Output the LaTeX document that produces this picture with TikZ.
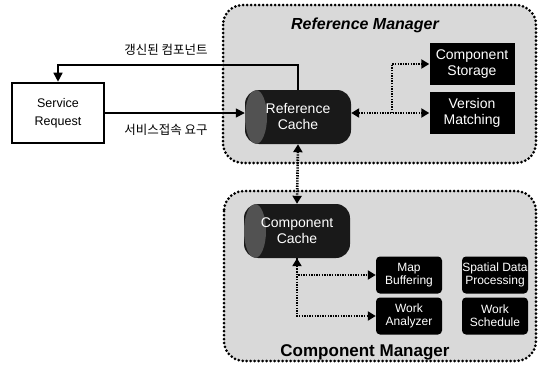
\documentclass[tikz,border=0pt]{standalone}
\usepackage{fontspec}
\setmainfont{Liberation Sans}
\newfontfamily\kr{Noto Sans CJK KR}
\usetikzlibrary{arrows.meta}

\tikzset{
  region/.style={draw=black, fill=black!15, line width=3pt,
    dash pattern=on 0pt off 4pt, line cap=round, rounded corners=20pt},
  cache/.style={fill=black!90, text=white, align=center, rounded corners=14pt,
    minimum width=106pt, minimum height=54pt, inner sep=0pt,
    font=\fontsize{14}{16}\selectfont,
    path picture={\fill[black!68] ([xshift=11pt]path picture bounding box.west)
      ellipse (11pt and 27pt);}},
  module/.style={fill=black, text=white, align=center,
    minimum width=85pt, minimum height=42pt, inner sep=0pt,
    font=\fontsize{14}{16}\selectfont},
  task/.style={fill=black, text=white, align=center, rounded corners=4pt,
    minimum width=66pt, minimum height=37pt, inner sep=0pt,
    font=\fontsize{12}{13}\selectfont},
  flow/.style={line width=1.6pt, >={Triangle[width=9pt,length=9pt]}, ->},
  link/.style={black, line width=2.6pt, dash pattern=on 1.4pt off 1.2pt,
    >={Triangle[width=9pt,length=8pt]}, <->}
}

\begin{document}
\begin{tikzpicture}[x=1pt,y=-1pt]
	\useasboundingbox (0,0) rectangle (539,367);

	% manager regions
	\draw[region] (223,5) rectangle (536,163);
	\draw[region] (224,191) rectangle (536,361);
	\node (RMt) at (365,25) {\fontsize{16}{18}\selectfont\bfseries\itshape Reference Manager};
	\node (CMt) at (365,352) {\fontsize{17}{19}\selectfont\bfseries Component Manager};

	% nodes
	\node[draw, line width=2.6pt, minimum width=92pt, minimum height=60pt,
		align=center, font=\fontsize{12.5}{18}\selectfont] (SR) at (58,113) {Service\\Request};
	\node[cache] (RC) at (298,117) {Reference\\Cache};
	\node[module] (CS) at (472,64) {Component\\Storage};
	\node[module] (VM) at (472,113) {Version\\Matching};

	\node[cache] (CC) at (297,231) {Component\\Cache};
	\node[task] (MB) at (409,275) {Map\\Buffering};
	\node[task] (SD) at (495,275) {Spatial Data\\Processing};
	\node[task] (WA) at (409,316) {Work\\Analyzer};
	\node[task] (WS) at (495,316) {Work\\Schedule};

	\coordinate (top) at (0,65);
	\coordinate (jn) at (392,113);

	% request / reply
	\draw[flow] (RC.north) -- (RC.north |- top) -| (SR.north);
	\draw[flow] (SR.east) -- (SR.east -| RC.west);
	\node (L1) at (166,50) {\kr\fontsize{12.5}{14}\selectfont 갱신된 컴포넌트};
	\node (L2) at (166,130) {\kr\fontsize{12.5}{14}\selectfont 서비스접속 요구};

	% internal links
	\draw[link] (RC.east |- VM.west) -- (VM.west);
	\draw[link, ->] (jn) |- (CS.west);
	\draw[link] (RC.south) -- (CC.north);
	\draw[link] (CC.south) |- (MB.west);
	\draw[link, ->] (CC.south) |- (WA.west);
\end{tikzpicture}
\end{document}
